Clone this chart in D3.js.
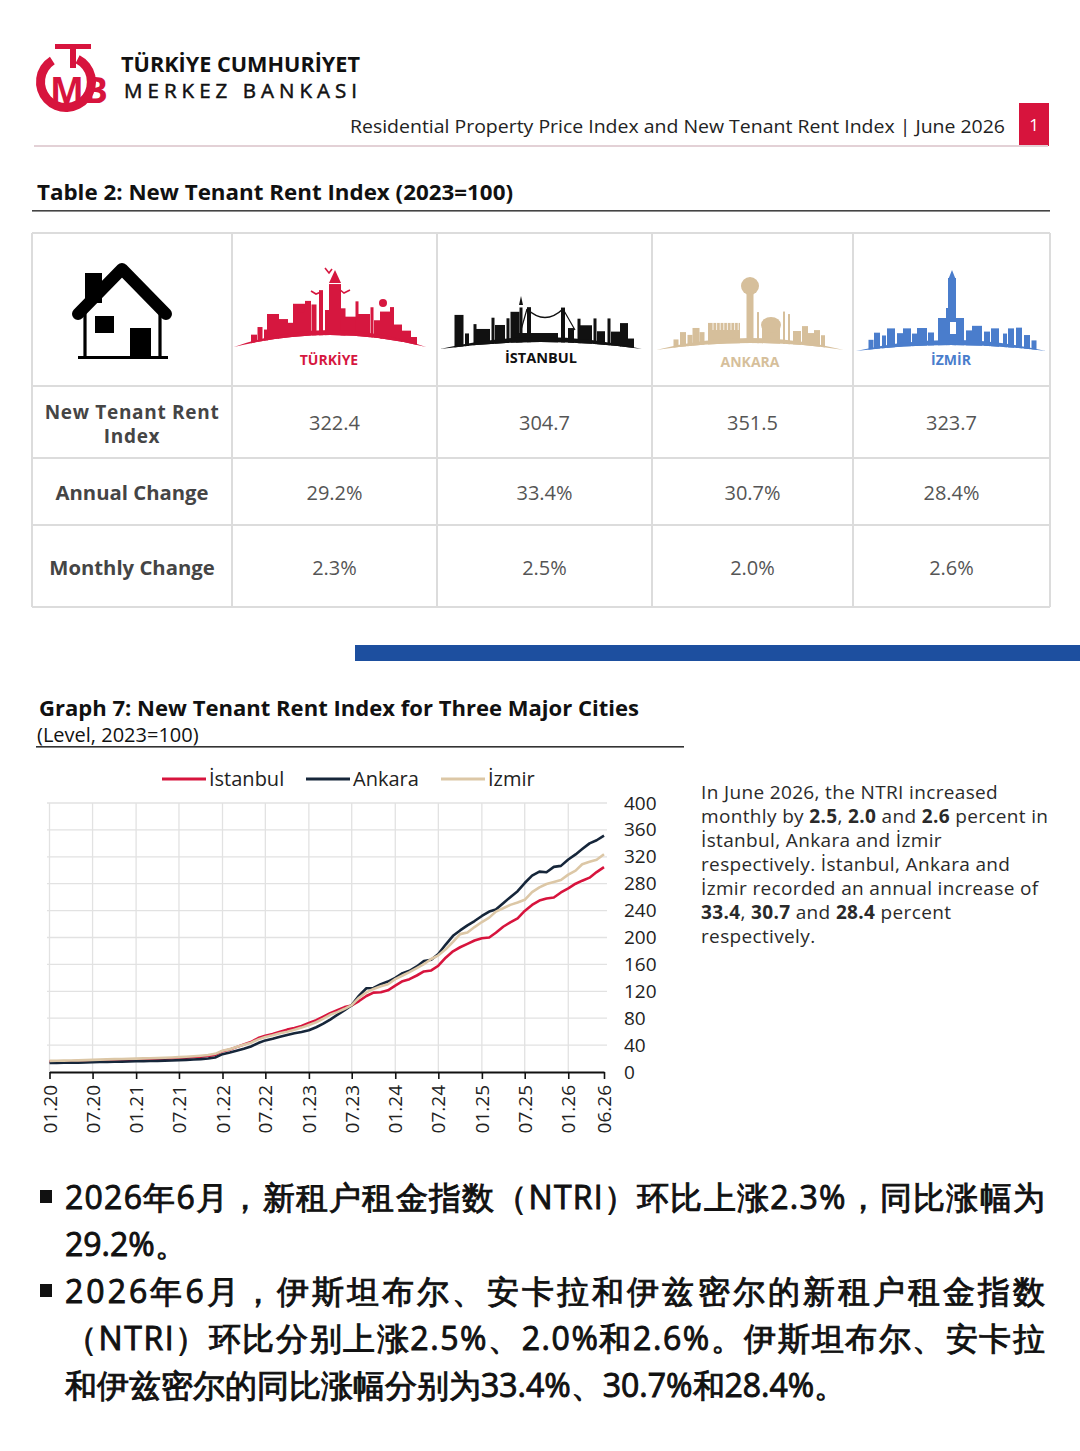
<!DOCTYPE html>
<html><head><meta charset="utf-8">
<script src="https://cdn.jsdelivr.net/npm/d3@7"></script>
<style>
html,body{margin:0;padding:0;background:#fff;}
svg{display:block;}
text{font-family:"Open Sans",sans-serif;}
</style></head><body>
<svg id="page" width="1080" height="1451"></svg>
<script>
// ---------------- DATA ----------------
const xTickLabels = ["01.20","07.20","01.21","07.21","01.22","07.22","01.23","07.23","01.24","07.24","01.25","07.25","01.26","06.26"];
const yTickValues = [0,40,80,120,160,200,240,280,320,360,400];
const seriesNames = ["İstanbul","Ankara","İzmir"];
const seriesColors = ["#d7143d","#16263a","#dcc7a6"];
const istanbul = [
15.5,15.7,15.9,16.0,16.1,16.4,16.8,17.2,17.6,17.9,18.1,18.3,
18.6,18.8,19.1,19.4,19.7,20.1,20.6,21.2,21.9,22.6,23.7,25.4,
31.0,33.5,37.0,41.0,44.5,50.5,54.0,56.5,60.0,63.0,65.5,68.5,
73.0,77.0,82.0,87.5,92.0,96.5,99.0,105.5,113.0,118.0,118.5,121.5,
128.5,135.0,138.0,143.5,149.5,151.0,158.0,170.0,179.5,185.5,190.5,195.5,
199.0,200.0,207.0,216.0,222.5,228.4,239.5,248.5,255.0,258.0,259.5,267.0,
273.0,280.0,284.5,289.0,297.3,304.7];
const ankara = [
13.5,13.6,13.8,13.9,14.0,14.2,14.5,14.8,15.1,15.3,15.5,15.7,
15.9,16.1,16.3,16.6,16.9,17.2,17.6,18.0,18.6,19.2,20.1,21.6,
26.5,29.0,31.5,34.5,38.0,43.0,47.0,49.5,52.5,55.0,57.5,59.5,
62.0,66.5,71.5,78.0,85.0,92.0,99.5,113.5,124.5,125.0,130.5,134.5,
140.0,147.0,150.5,157.0,165.0,167.0,175.5,189.5,202.5,210.5,218.0,224.5,
232.0,238.5,241.5,251.0,260.0,268.9,281.0,292.0,298.0,297.0,305.0,306.5,
316.0,323.5,331.5,340.0,344.6,351.5];
const izmir = [
16.5,16.7,16.9,17.1,17.3,17.6,18.0,18.4,18.8,19.1,19.3,19.6,
19.9,20.2,20.5,20.8,21.2,21.6,22.1,22.7,23.4,24.2,25.2,27.0,
31.5,34.0,37.0,40.5,43.5,48.5,52.0,54.5,57.5,60.0,63.0,66.0,
70.0,74.0,79.0,85.0,89.0,94.0,99.5,110.5,118.5,123.5,127.5,130.5,
138.0,143.5,148.5,154.5,160.5,168.0,173.5,182.5,193.5,205.0,207.5,215.5,
223.0,229.5,238.5,243.5,248.5,252.1,256.0,267.5,274.5,279.5,282.5,285.5,
293.5,299.5,309.0,312.5,315.5,323.7];
const tableCities = ["TÜRKİYE","İSTANBUL","ANKARA","İZMİR"];
const tableRowLabels = [["New Tenant Rent","Index"],["Annual Change"],["Monthly Change"]];
const ntriLevel = [322.4,304.7,351.5,323.7];
const annualChange = [29.2,33.4,30.7,28.4];
const monthlyChange = [2.3,2.5,2.0,2.6];

// ---------------- PAGE ----------------
const svg = d3.select("#page");
svg.append("rect").attr("width",1080).attr("height",1451).attr("fill","#fff");
const RED = "#d7143d";

// Logo
const logo = svg.append("g");
logo.append("path").attr("d", d3.arc()({innerRadius:21,outerRadius:30,startAngle:Math.PI*0.18,endAngle:Math.PI*1.85}))
  .attr("transform","translate(66,82) rotate(180) scale(-1,1) rotate(180)").attr("fill",RED);
logo.append("rect").attr("x",55).attr("y",44).attr("width",36).attr("height",5).attr("fill",RED);
logo.append("rect").attr("x",70).attr("y",44).attr("width",6).attr("height",24).attr("fill",RED);
logo.append("text").attr("x",50).attr("y",103).attr("font-family","Liberation Serif").attr("font-weight",700)
  .attr("font-size",36).attr("textLength",58).attr("lengthAdjust","spacingAndGlyphs").attr("fill",RED).text("MB");
svg.append("text").attr("x",121).attr("y",72).attr("font-family","'Liberation Sans Narrow','Liberation Sans',sans-serif")
  .attr("font-size",20.5).attr("font-weight",700).attr("fill","#111")
  .attr("textLength",239).attr("lengthAdjust","spacingAndGlyphs").text("TÜRKİYE CUMHURİYET");
svg.append("text").attr("x",124).attr("y",98).attr("font-family","'Liberation Sans Narrow','Liberation Sans',sans-serif")
  .attr("font-size",20.5).attr("font-weight",400).attr("fill","#111").attr("stroke","#111").attr("stroke-width",0.5)
  .attr("textLength",233).attr("lengthAdjust","spacing").text("MERKEZ BANKASI");
svg.append("text").attr("x",1005).attr("y",133).attr("text-anchor","end").attr("font-size",19).attr("fill","#222")
  .attr("textLength",655).attr("lengthAdjust","spacingAndGlyphs")
  .text("Residential Property Price Index and New Tenant Rent Index | June 2026");
svg.append("rect").attr("x",1019).attr("y",103).attr("width",30).attr("height",43).attr("fill",RED);
svg.append("text").attr("x",1034).attr("y",131).attr("text-anchor","middle").attr("font-size",17).attr("fill","#fff").text("1");
svg.append("rect").attr("x",34).attr("y",145).attr("width",1014).attr("height",2).attr("fill","#e3d1d6");

// Table title
svg.append("text").attr("x",37).attr("y",200).attr("font-size",21).attr("font-weight",700).attr("fill","#111")
  .attr("textLength",476).attr("lengthAdjust","spacingAndGlyphs").text("Table 2: New Tenant Rent Index (2023=100)");
svg.append("rect").attr("x",32).attr("y",210).attr("width",1018).attr("height",1.6).attr("fill","#444");

// Table grid
const colX = [32,232,437,652,853,1050];
const rowY = [233,386,458,525,607];
const tg = svg.append("g").attr("stroke","#dcdcdc").attr("stroke-width",2);
colX.forEach(cx=>tg.append("line").attr("x1",cx).attr("x2",cx).attr("y1",rowY[0]).attr("y2",rowY[rowY.length-1]));
rowY.forEach(ry=>tg.append("line").attr("x1",colX[0]).attr("x2",colX[colX.length-1]).attr("y1",ry).attr("y2",ry));
const colC = d3.range(5).map(i=>(colX[i]+colX[i+1])/2);
// row labels
const lbl = svg.append("g").attr("font-weight",700).attr("fill","#454545").attr("text-anchor","middle");
lbl.append("text").attr("x",132).attr("y",419).attr("font-size",19).attr("letter-spacing",0.7).text(tableRowLabels[0][0]);
lbl.append("text").attr("x",132).attr("y",443).attr("font-size",19).attr("letter-spacing",0.7).text(tableRowLabels[0][1]);
lbl.append("text").attr("x",132).attr("y",500).attr("font-size",20.3).text(tableRowLabels[1][0]);
lbl.append("text").attr("x",132).attr("y",575).attr("font-size",20.3).text(tableRowLabels[2][0]);
const vals = svg.append("g").attr("font-size",20).attr("fill","#555").attr("text-anchor","middle");
const fmt1 = d3.format(".1f");
ntriLevel.forEach((v,i)=>vals.append("text").attr("x",colC[i+1]).attr("y",430).text(fmt1(v)));
annualChange.forEach((v,i)=>vals.append("text").attr("x",colC[i+1]).attr("y",500).text(fmt1(v)+"%"));
monthlyChange.forEach((v,i)=>vals.append("text").attr("x",colC[i+1]).attr("y",575).text(fmt1(v)+"%"));

// House icon
const house = svg.append("g").attr("fill","#000");
house.append("rect").attr("x",85).attr("y",273).attr("width",17).attr("height",30);
house.append("path").attr("d","M78,314 L122,269 L166,314").attr("fill","none").attr("stroke","#000")
  .attr("stroke-width",12).attr("stroke-linejoin","round").attr("stroke-linecap","round");
house.append("path").attr("d","M85,303 L85,357 M160,303 L160,357").attr("stroke","#000").attr("stroke-width",3.2);
house.append("rect").attr("x",78).attr("y",356).attr("width",90).attr("height",3);
house.append("rect").attr("x",95).attr("y",316).attr("width",19).attr("height",17);
house.append("rect").attr("x",130).attr("y",328).attr("width",21).attr("height",30);

// Skylines
let clipN = 0;
function skyline(cx, hw, yEnd, yTop, color, blds){
  const C1 = 2*yTop - yEnd, C2 = 2*(yTop+5) - yEnd;
  const curveY = xx => { const t=(xx-(cx-hw))/(2*hw); return yEnd + 2*(C1-yEnd)*t*(1-t); };
  const id = "skc"+(clipN++);
  svg.append("clipPath").attr("id",id).append("path")
    .attr("d",`M${cx-hw},${yEnd} Q${cx},${C2} ${cx+hw},${yEnd} L${cx+hw},200 L${cx-hw},200 Z`);
  const g = svg.append("g").attr("fill",color);
  const b = g.append("g").attr("clip-path",`url(#${id})`);
  blds.forEach(([dx,w,h])=>{ const top = curveY(cx+dx)-h;
    b.append("rect").attr("x",cx+dx-w/2).attr("y",top).attr("width",w).attr("height",yEnd-top+2); });
  g.append("path").attr("d",`M${cx-hw},${yEnd} Q${cx},${C1} ${cx+hw},${yEnd} Q${cx},${C2} ${cx-hw},${yEnd} Z`);
  return {g, curveY};
}
// Türkiye
{
  const s = skyline(330,96,347,330,"#d6173f",[
    [-76,6,6],[-70,5,12],[-64,4,8],[-57,12,22],[-47,10,15],[-39,6,10],[-31,12,28],[-22,6,30],[-16,5,26],
    [-9,4,40],[-3,4,20],[5,12,46],[13,5,22],[19,16,14],[27,3,30],[33,14,18],[42,3,26],[48,8,14],[55,10,24],
    [62,4,30],[68,8,14],[76,10,10],[84,6,6]]);
  s.g.append("path").attr("d","M329,283 L335,270 L341,283 Z");
  s.g.append("circle").attr("cx",301).attr("cy",309).attr("r",4);
  s.g.append("circle").attr("cx",383).attr("cy",303).attr("r",4);
  const birds = s.g.append("g").attr("fill","none").attr("stroke","#d6173f").attr("stroke-width",1.6);
  birds.append("path").attr("d","M325,268 l4,5 l3,-4");
  birds.append("path").attr("d","M339,289 l5,4 l6,-3");
  birds.append("path").attr("d","M311,291 l5,3 l5,-2");
  svg.append("text").attr("x",329).attr("y",365).attr("text-anchor","middle").attr("font-size",14)
    .attr("font-weight",700).attr("fill","#d6173f").text(tableCities[0]);
}
// İstanbul
{
  const s = skyline(541,101,349,337,"#111",[
    [-82,9,30],[-74,4,10],[-66,3,18],[-58,14,12],[-48,3,22],[-41,10,14],[-33,3,20],[-26,9,26],[-20,3,30],
    [-12,4,30],[-4,42,4],[22,4,30],[30,6,10],[38,3,20],[44,14,14],[54,3,22],[60,8,10],[68,3,24],[75,10,12],
    [83,8,22],[90,6,8]]);
  s.g.append("path").attr("d","M519,305 L521,296 L523,305 Z");
  s.g.append("path").attr("d","M527,309 Q545,326 563,309").attr("fill","none").attr("stroke","#111").attr("stroke-width",1.5);
  s.g.append("path").attr("d","M527,309 L521,330 M563,309 L575,330").attr("fill","none").attr("stroke","#111").attr("stroke-width",1.2);
  svg.append("text").attr("x",541).attr("y",363).attr("text-anchor","middle").attr("font-size",14.5)
    .attr("font-weight",700).attr("fill","#111").text(tableCities[1]);
}
// Ankara
{
  const s = skyline(750,94,350,338,"#d6bf9b",[
    [-74,5,6],[-67,6,12],[-60,5,8],[-54,7,14],[-48,5,9],[-26,32,16],[0,7,44],[8,2,26],[21,18,12],
    [34,2,28],[39,2,26],[47,8,10],[55,6,16],[61,6,10],[67,6,14],[73,4,10]]);
  s.g.append("circle").attr("cx",750).attr("cy",286).attr("r",9);
  s.g.append("ellipse").attr("cx",771).attr("cy",325).attr("rx",10).attr("ry",8);
  const cols = s.g.append("g").attr("stroke","#fff").attr("stroke-width",0.8);
  d3.range(8).forEach(i=>cols.append("line").attr("x1",713+i*3.6).attr("x2",713+i*3.6).attr("y1",320).attr("y2",330));
  svg.append("text").attr("x",750).attr("y",367).attr("text-anchor","middle").attr("font-size",14)
    .attr("font-weight",700).attr("fill","#d6bf9b").text(tableCities[2]);
}
// İzmir
{
  const s = skyline(951,95,351,340,"#4a7dcc",[
    [-80,5,8],[-74,6,14],[-67,4,10],[-60,8,16],[-51,6,10],[-44,8,14],[-36,6,8],[-29,10,13],[-20,6,8],
    [0,26,22],[0,10,32],[1,8,62],[18,6,10],[26,10,15],[36,6,10],[44,8,14],[54,4,10],[60,6,16],[68,6,18],[76,6,12],[83,5,8]]);
  s.g.append("path").attr("d","M948,280 L952,270 L956,280 Z");
  s.g.append("rect").attr("x",950).attr("y",322).attr("width",6).attr("height",12).attr("fill","#fff");
  svg.append("text").attr("x",951).attr("y",365).attr("text-anchor","middle").attr("font-size",14)
    .attr("font-weight",700).attr("fill","#4a7dcc").text(tableCities[3]);
}

// Blue bar
svg.append("rect").attr("x",355).attr("y",645).attr("width",725).attr("height",16).attr("fill","#1d4f9f");

// Graph titles
svg.append("text").attr("x",39).attr("y",716).attr("font-size",21).attr("font-weight",700).attr("fill","#111")
  .attr("textLength",600).attr("lengthAdjust","spacingAndGlyphs").text("Graph 7: New Tenant Rent Index for Three Major Cities");
svg.append("text").attr("x",37).attr("y",742).attr("font-size",20).attr("fill","#111").text("(Level, 2023=100)");
svg.append("rect").attr("x",36).attr("y",746).attr("width",648).attr("height",1.6).attr("fill","#333");

// ---------------- CHART ----------------
const parseM = d3.timeParse("%m.%y");
const months = d3.timeMonth.range(parseM(xTickLabels[0]), d3.timeMonth.offset(parseM(xTickLabels[xTickLabels.length-1]),1));
const tickDates = xTickLabels.map(parseM);
const x = d3.scaleTime().domain([months[0], months[months.length-1]]).range([49.5, 604]);
const y = d3.scaleLinear().domain([0,400]).range([1072, 803]);
const chart = svg.append("g");
// grid
const grid = chart.append("g").attr("stroke","#e2e2e2").attr("stroke-width",1.3);
yTickValues.filter(v=>v>0).forEach(v=>grid.append("line").attr("x1",47).attr("x2",607).attr("y1",y(v)).attr("y2",y(v)));
tickDates.slice(0,-1).forEach(d=>grid.append("line").attr("x1",x(d)).attr("x2",x(d)).attr("y1",y(400)).attr("y2",y(0)));
// lines
const line = d3.line().x((d,i)=>x(months[i])).y(d=>y(d));
[istanbul, ankara, izmir].forEach((s,i)=>chart.append("path").datum(s).attr("d",line)
  .attr("fill","none").attr("stroke",seriesColors[i]).attr("stroke-width",2.6).attr("stroke-linejoin","round"));
// x axis
const xa = chart.append("g").attr("transform",`translate(0,${y(0)})`)
  .call(d3.axisBottom(x).tickValues(tickDates).tickFormat(d3.timeFormat("%m.%y")).tickSize(7).tickSizeOuter(0));
xa.select(".domain").attr("stroke","#111").attr("stroke-width",2);
xa.selectAll(".tick line").attr("stroke","#111").attr("stroke-width",1.6);
xa.selectAll(".tick text").attr("transform","rotate(-90)").attr("x",-13).attr("y",0).attr("dy","0.35em")
  .attr("text-anchor","end").attr("font-size",19).attr("font-family","Open Sans").attr("fill","#222");
// y axis
const ya = chart.append("g").attr("transform","translate(604,0)")
  .call(d3.axisRight(y).tickValues(yTickValues).tickSize(0).tickPadding(20));
ya.select(".domain").remove();
ya.selectAll(".tick text").attr("font-size",19).attr("font-family","Open Sans").attr("fill","#222");
// legend
const legX = [162,306,441];
const lg = svg.append("g");
seriesNames.forEach((n,i)=>{
  lg.append("line").attr("x1",legX[i]).attr("x2",legX[i]+44).attr("y1",779).attr("y2",779)
    .attr("stroke",seriesColors[i]).attr("stroke-width",3);
  lg.append("text").attr("x",legX[i]+47).attr("y",786).attr("font-size",20).attr("fill","#222").text(n);
});

// ---------------- RIGHT TEXT ----------------
const rt = svg.append("g").attr("font-size",19).attr("letter-spacing",0.35).attr("fill","#2a2a2a");
const rlines = [
  [["In June 2026, the NTRI increased",0]],
  [["monthly by ",0],["2.5",1],[", ",0],["2.0",1],[" and ",0],["2.6",1],[" percent in",0]],
  [["İstanbul, Ankara and İzmir",0]],
  [["respectively. İstanbul, Ankara and",0]],
  [["İzmir recorded an annual increase of",0]],
  [["33.4",1],[", ",0],["30.7",1],[" and ",0],["28.4",1],[" percent",0]],
  [["respectively.",0]]];
rlines.forEach((segs,i)=>{
  const t = rt.append("text").attr("x",701).attr("y",799+i*24);
  segs.forEach(([s,b])=>t.append("tspan").attr("font-weight",b?700:400).text(s));
});

// ---------------- BOTTOM CHINESE TEXT ----------------
const zh = svg.append("g").attr("font-family","'Noto Sans CJK SC'").attr("font-size",32).attr("fill","#111");
zh.append("rect").attr("x",40).attr("y",1190).attr("width",12).attr("height",13).attr("fill","#111");
zh.append("rect").attr("x",40).attr("y",1284).attr("width",12).attr("height",13).attr("fill","#111");
const zlines = [
  ["2026年6月，新租户租金指数（NTRI）环比上涨2.3%，同比涨幅为",1209,true],
  ["29.2%。",1256,false],
  ["2026年6月，伊斯坦布尔、安卡拉和伊兹密尔的新租户租金指数",1303,true],
  ["（NTRI）环比分别上涨2.5%、2.0%和2.6%。伊斯坦布尔、安卡拉",1350,true],
  ["和伊兹密尔的同比涨幅分别为33.4%、30.7%和28.4%。",1397,false]];
zlines.forEach(([s,yy,j])=>{
  const t = zh.append("text").attr("x",65).attr("y",yy).attr("font-family","'Noto Sans CJK SC'")
    .attr("font-weight",400).attr("stroke","#111").attr("stroke-width",0.9).text(s);
  if (j) t.attr("textLength",980).attr("lengthAdjust","spacing");
});
</script>
</body></html>
